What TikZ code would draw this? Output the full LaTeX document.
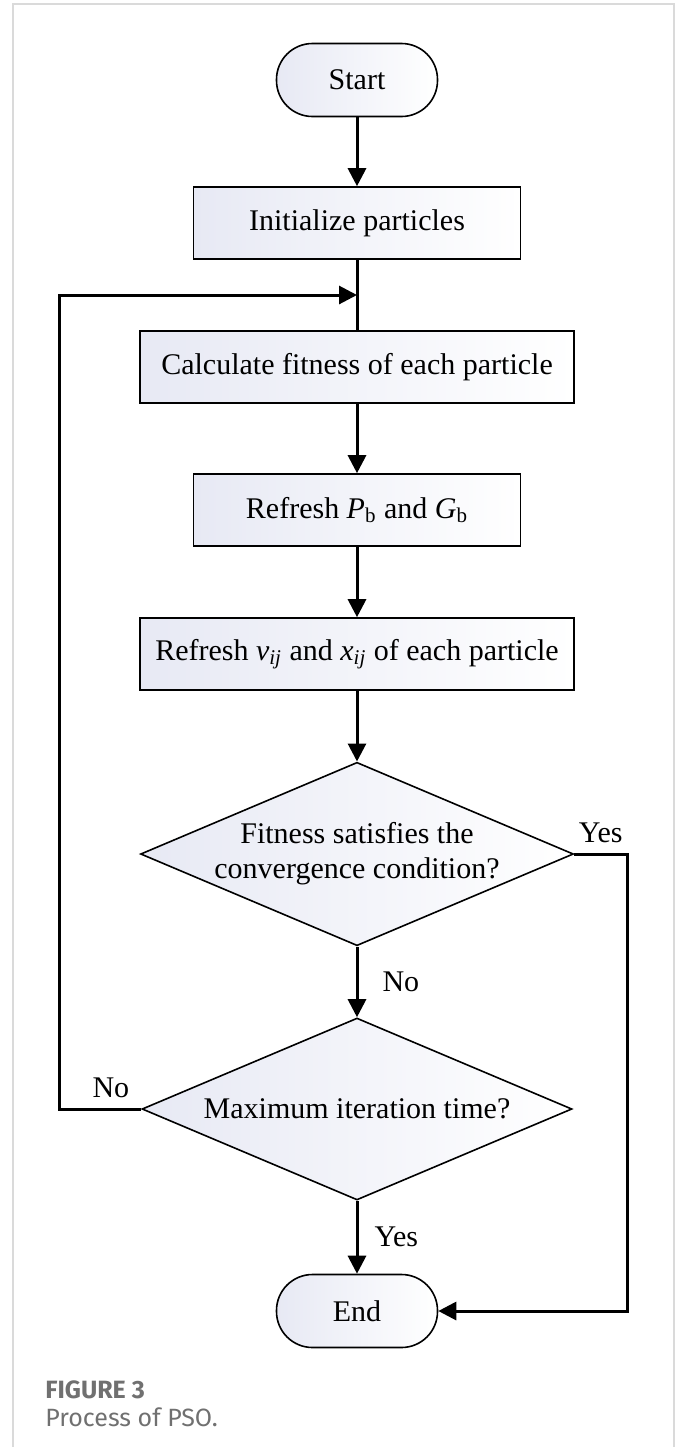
\documentclass[tikz,border=0pt]{standalone}
\usepackage{fontspec}
\setmainfont{Liberation Serif}
\newfontfamily\capfont{Fira Sans}
\usetikzlibrary{shapes.geometric,arrows.meta}
\definecolor{boxshade}{RGB}{231,233,244}
\definecolor{framegray}{RGB}{218,218,218}
\definecolor{capgray}{RGB}{112,112,112}
\begin{document}
\begin{tikzpicture}[x=0.5pt,y=0.5pt,>={Triangle[width=9pt,length=9pt]},
  every node/.style={font=\fontsize{15pt}{17.5pt}\selectfont},
  term/.style={draw,line width=0.8pt,rounded corners=18pt,minimum width=80.5pt,minimum height=36.5pt,left color=boxshade,right color=white},
  proc/.style={draw,line width=0.8pt,minimum height=36pt,left color=boxshade,right color=white},
  decision/.style={diamond,draw,line width=0.8pt,aspect=2.36,inner sep=0pt,minimum width=215pt,minimum height=91pt,left color=boxshade,right color=white,align=center},
  conn/.style={line width=1.5pt},
  tag/.style={inner sep=0pt},
  captext/.style={anchor=west,inner sep=0pt,text=capgray,font=\capfont\fontsize{12.5pt}{15pt}\selectfont}]
\useasboundingbox (0,0) rectangle (680,-1447);
\draw[framegray,line width=1pt](13,-1447)--(13,-4)--(674,-4)--(674,-1447);

\node[term](start) at (357,-80) {Start};
\node[proc,minimum width=163.5pt](init) at (357,-223) {Initialize particles};
\node[proc,minimum width=217pt](calc) at (357,-367) {Calculate fitness of each particle};
\node[proc,minimum width=163.5pt](pbgb) at (357,-510) {Refresh \textit{P}\textsubscript{b} and \textit{G}\textsubscript{b}};
\node[proc,minimum width=217pt](vx) at (357,-654) {Refresh \textit{v}\textsubscript{\textit{ij}} and \textit{x}\textsubscript{\textit{ij}} of each particle};
\node[decision](conv) at (357,-854) {Fitness satisfies the\\convergence condition?};
\node[decision](maxit) at (357,-1109) {Maximum iteration time?};
\node[term](end) at (357,-1311) {End};
\coordinate (join) at (357,-295);

\draw[conn,->](start)--(init);
\draw[conn](init)--(calc);
\draw[conn,->](calc)--(pbgb);
\draw[conn,->](pbgb)--(vx);
\draw[conn,->](vx)--(conv);
\draw[conn,->](conv)--(maxit)node[tag,midway,right=12pt]{No};
\draw[conn,->](maxit)--(end)node[tag,midway,right=8pt]{Yes};
\draw[conn,->](conv.east)--++(53,0)node[tag,midway,above=5pt]{Yes}|-(end.east);
\draw[conn,->](maxit.west)--++(-82,0)node[tag,pos=.37,above=5pt]{No}|-(join);

\node[captext,font=\capfont\bfseries\fontsize{12.5pt}{15pt}\selectfont](fig) at (45,-1390) {FIGURE 3};
\node[captext](capt) at (45,-1417) {Process of PSO.};
\end{tikzpicture}
\end{document}
